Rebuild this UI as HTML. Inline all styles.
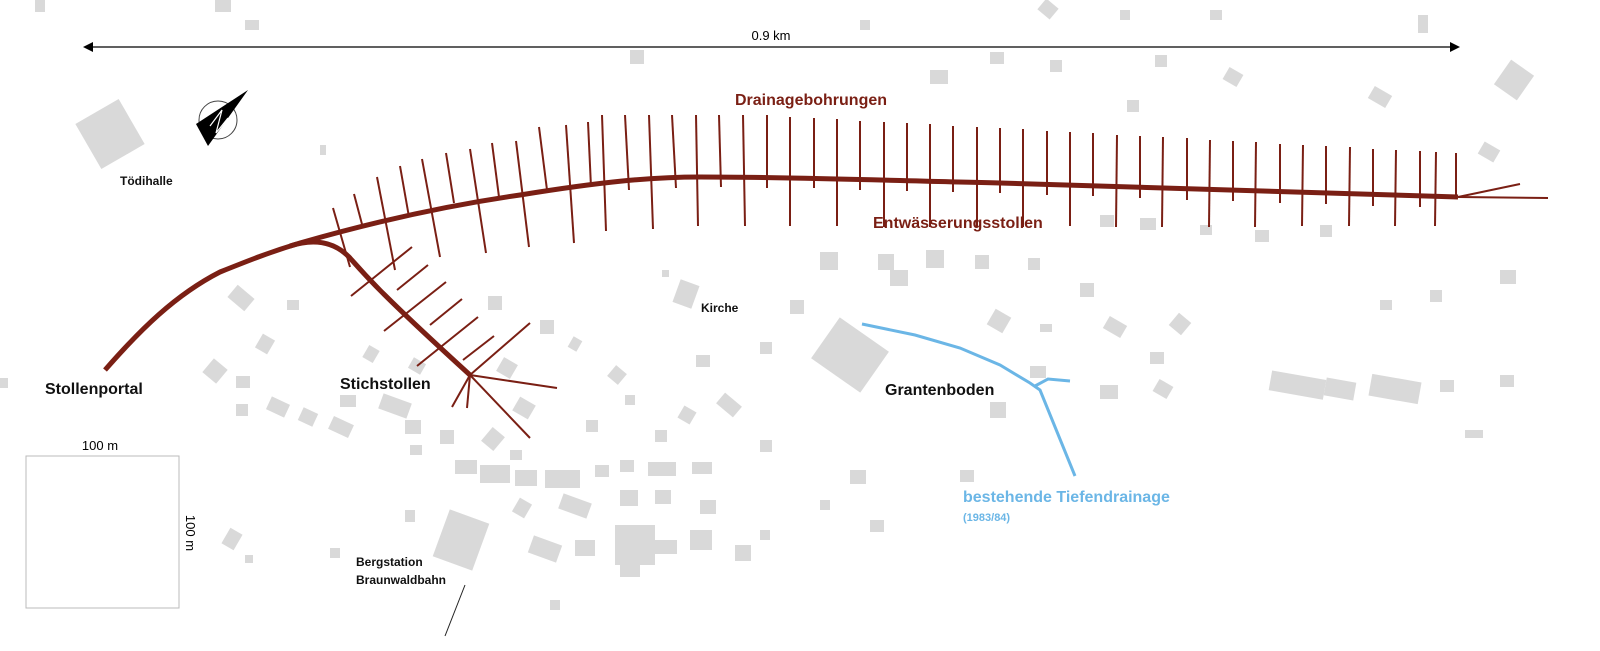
<!DOCTYPE html>
<html><head><meta charset="utf-8"><style>
html,body{margin:0;padding:0;background:#fff;overflow:hidden;width:1600px;height:651px;}
svg{display:block;position:absolute;left:0;top:0}
text{font-family:"Liberation Sans",sans-serif;}
</style></head><body>
<svg width="1600" height="651" viewBox="0 0 1600 651" xmlns="http://www.w3.org/2000/svg">
<g fill="#d9d9d9">
<rect x="85" y="108" width="50" height="52" transform="rotate(-30 110 134)"/>
<rect x="320" y="145" width="6" height="10"/>
<rect x="230" y="290" width="22" height="16" transform="rotate(40 241 298)"/>
<rect x="287" y="300" width="12" height="10"/>
<rect x="258" y="336" width="14" height="16" transform="rotate(30 265 344)"/>
<rect x="206" y="362" width="18" height="18" transform="rotate(40 215 371)"/>
<rect x="236" y="376" width="14" height="12"/>
<rect x="268" y="400" width="20" height="14" transform="rotate(25 278 407)"/>
<rect x="300" y="410" width="16" height="14" transform="rotate(25 308 417)"/>
<rect x="236" y="404" width="12" height="12"/>
<rect x="330" y="420" width="22" height="14" transform="rotate(25 341 427)"/>
<rect x="365" y="347" width="12" height="14" transform="rotate(30 371 354)"/>
<rect x="340" y="395" width="16" height="12"/>
<rect x="380" y="398" width="30" height="16" transform="rotate(20 395 406)"/>
<rect x="405" y="420" width="16" height="14"/>
<rect x="440" y="430" width="14" height="14"/>
<rect x="410" y="445" width="12" height="10"/>
<rect x="488" y="296" width="14" height="14"/>
<rect x="410" y="360" width="14" height="12" transform="rotate(30 417 366)"/>
<rect x="499" y="360" width="16" height="16" transform="rotate(30 507 368)"/>
<rect x="540" y="320" width="14" height="14"/>
<rect x="515" y="400" width="18" height="16" transform="rotate(30 524 408)"/>
<rect x="485" y="430" width="16" height="18" transform="rotate(40 493 439)"/>
<rect x="510" y="450" width="12" height="10"/>
<rect x="570" y="338" width="10" height="12" transform="rotate(30 575 344)"/>
<rect x="610" y="368" width="14" height="14" transform="rotate(40 617 375)"/>
<rect x="625" y="395" width="10" height="10"/>
<rect x="586" y="420" width="12" height="12"/>
<rect x="676" y="282" width="20" height="24" transform="rotate(20 686 294)"/>
<rect x="662" y="270" width="7" height="7"/>
<rect x="696" y="355" width="14" height="12"/>
<rect x="718" y="398" width="22" height="14" transform="rotate(40 729 405)"/>
<rect x="680" y="408" width="14" height="14" transform="rotate(30 687 415)"/>
<rect x="655" y="430" width="12" height="12"/>
<rect x="790" y="300" width="14" height="14"/>
<rect x="760" y="342" width="12" height="12"/>
<rect x="820" y="330" width="60" height="50" transform="rotate(35 850 355)"/>
<rect x="820" y="252" width="18" height="18"/>
<rect x="878" y="254" width="16" height="16"/>
<rect x="926" y="250" width="18" height="18"/>
<rect x="890" y="270" width="18" height="16"/>
<rect x="975" y="255" width="14" height="14"/>
<rect x="1028" y="258" width="12" height="12"/>
<rect x="990" y="312" width="18" height="18" transform="rotate(30 999 321)"/>
<rect x="1040" y="324" width="12" height="8"/>
<rect x="1030" y="366" width="16" height="12"/>
<rect x="990" y="402" width="16" height="16"/>
<rect x="1080" y="283" width="14" height="14"/>
<rect x="1105" y="320" width="20" height="14" transform="rotate(30 1115 327)"/>
<rect x="1172" y="316" width="16" height="16" transform="rotate(40 1180 324)"/>
<rect x="1150" y="352" width="14" height="12"/>
<rect x="1100" y="385" width="18" height="14"/>
<rect x="1155" y="382" width="16" height="14" transform="rotate(30 1163 389)"/>
<rect x="1270" y="375" width="55" height="20" transform="rotate(10 1297 385)"/>
<rect x="1325" y="380" width="30" height="18" transform="rotate(10 1340 389)"/>
<rect x="1370" y="378" width="50" height="22" transform="rotate(10 1395 389)"/>
<rect x="1440" y="380" width="14" height="12"/>
<rect x="1500" y="375" width="14" height="12"/>
<rect x="1465" y="430" width="18" height="8"/>
<rect x="1500" y="270" width="16" height="14"/>
<rect x="1430" y="290" width="12" height="12"/>
<rect x="1380" y="300" width="12" height="10"/>
<rect x="1480" y="145" width="18" height="14" transform="rotate(30 1489 152)"/>
<rect x="1500" y="65" width="28" height="30" transform="rotate(35 1514 80)"/>
<rect x="1418" y="15" width="10" height="18"/>
<rect x="1100" y="215" width="14" height="12"/>
<rect x="1140" y="218" width="16" height="12"/>
<rect x="1200" y="225" width="12" height="10"/>
<rect x="1255" y="230" width="14" height="12"/>
<rect x="1320" y="225" width="12" height="12"/>
<rect x="1225" y="70" width="16" height="14" transform="rotate(30 1233 77)"/>
<rect x="1155" y="55" width="12" height="12"/>
<rect x="1127" y="100" width="12" height="12"/>
<rect x="1370" y="90" width="20" height="14" transform="rotate(30 1380 97)"/>
<rect x="1040" y="2" width="16" height="14" transform="rotate(40 1048 9)"/>
<rect x="1050" y="60" width="12" height="12"/>
<rect x="1120" y="10" width="10" height="10"/>
<rect x="1210" y="10" width="12" height="10"/>
<rect x="990" y="52" width="14" height="12"/>
<rect x="930" y="70" width="18" height="14"/>
<rect x="630" y="50" width="14" height="14"/>
<rect x="860" y="20" width="10" height="10"/>
<rect x="215" y="0" width="16" height="12"/>
<rect x="245" y="20" width="14" height="10"/>
<rect x="35" y="0" width="10" height="12"/>
<rect x="0" y="378" width="8" height="10"/>
<rect x="455" y="460" width="22" height="14"/>
<rect x="480" y="465" width="30" height="18"/>
<rect x="515" y="470" width="22" height="16"/>
<rect x="545" y="470" width="35" height="18"/>
<rect x="595" y="465" width="14" height="12"/>
<rect x="620" y="460" width="14" height="12"/>
<rect x="648" y="462" width="28" height="14"/>
<rect x="692" y="462" width="20" height="12"/>
<rect x="515" y="500" width="14" height="16" transform="rotate(30 522 508)"/>
<rect x="560" y="498" width="30" height="16" transform="rotate(20 575 506)"/>
<rect x="620" y="490" width="18" height="16"/>
<rect x="655" y="490" width="16" height="14"/>
<rect x="700" y="500" width="16" height="14"/>
<rect x="440" y="515" width="42" height="50" transform="rotate(20 461 540)"/>
<rect x="530" y="540" width="30" height="18" transform="rotate(20 545 549)"/>
<rect x="575" y="540" width="20" height="16"/>
<rect x="615" y="525" width="40" height="40"/>
<rect x="655" y="540" width="22" height="14"/>
<rect x="690" y="530" width="22" height="20"/>
<rect x="735" y="545" width="16" height="16"/>
<rect x="760" y="530" width="10" height="10"/>
<rect x="225" y="530" width="14" height="18" transform="rotate(30 232 539)"/>
<rect x="245" y="555" width="8" height="8"/>
<rect x="405" y="510" width="10" height="12"/>
<rect x="330" y="548" width="10" height="10"/>
<rect x="550" y="600" width="10" height="10"/>
<rect x="620" y="565" width="20" height="12"/>
<rect x="850" y="470" width="16" height="14"/>
<rect x="870" y="520" width="14" height="12"/>
<rect x="820" y="500" width="10" height="10"/>
<rect x="960" y="470" width="14" height="12"/>
<rect x="760" y="440" width="12" height="12"/>
</g>
<g stroke="#7a1f14" stroke-width="2">
<line x1="333" y1="208" x2="350" y2="267"/><line x1="354" y1="194" x2="363" y2="228"/>
<line x1="377" y1="177" x2="395" y2="270"/><line x1="400" y1="166" x2="409" y2="217"/>
<line x1="422" y1="159" x2="440" y2="257"/><line x1="446" y1="153" x2="454" y2="203"/>
<line x1="470" y1="149" x2="486" y2="253"/><line x1="492" y1="143" x2="499" y2="197"/>
<line x1="516" y1="141" x2="529" y2="247"/><line x1="539" y1="127" x2="547" y2="190"/>
<line x1="566" y1="125" x2="574" y2="243"/><line x1="588" y1="122" x2="591" y2="187"/>
<line x1="602" y1="115" x2="606" y2="231"/><line x1="625" y1="115" x2="629" y2="190"/>
<line x1="649" y1="115" x2="653" y2="229"/><line x1="672" y1="115" x2="676" y2="188"/>
<line x1="696" y1="115" x2="698" y2="226"/><line x1="719" y1="115" x2="721" y2="187"/>
<line x1="743" y1="115" x2="745" y2="226"/><line x1="767" y1="115" x2="767" y2="188"/>
<line x1="790" y1="117" x2="790" y2="226"/><line x1="814" y1="118" x2="814" y2="188"/>
<line x1="837" y1="119" x2="837" y2="226"/><line x1="860" y1="121" x2="860" y2="190"/>
<line x1="884" y1="122" x2="884" y2="227"/><line x1="907" y1="123" x2="907" y2="191"/>
<line x1="930" y1="124" x2="930" y2="227"/><line x1="953" y1="126" x2="953" y2="192"/>
<line x1="977" y1="127" x2="977" y2="227"/><line x1="1000" y1="128" x2="1000" y2="193"/>
<line x1="1023" y1="129" x2="1023" y2="227"/><line x1="1047" y1="131" x2="1047" y2="195"/>
<line x1="1070" y1="132" x2="1070" y2="226"/><line x1="1093" y1="133" x2="1093" y2="196"/>
<line x1="1117" y1="135" x2="1116" y2="227"/><line x1="1140" y1="136" x2="1140" y2="198"/>
<line x1="1163" y1="137" x2="1162" y2="227"/><line x1="1187" y1="138" x2="1187" y2="200"/>
<line x1="1210" y1="140" x2="1209" y2="227"/><line x1="1233" y1="141" x2="1233" y2="201"/>
<line x1="1256" y1="142" x2="1255" y2="227"/><line x1="1280" y1="144" x2="1280" y2="203"/>
<line x1="1303" y1="145" x2="1302" y2="226"/><line x1="1326" y1="146" x2="1326" y2="204"/>
<line x1="1350" y1="147" x2="1349" y2="226"/><line x1="1373" y1="149" x2="1373" y2="206"/>
<line x1="1396" y1="150" x2="1395" y2="226"/><line x1="1420" y1="151" x2="1420" y2="207"/>
<line x1="1436" y1="152" x2="1435" y2="226"/><line x1="1456" y1="153" x2="1456" y2="198"/>
</g>
<path d="M105,370 C140,330 175,295 220,272 C250,260 270,252 300,243 C380,220 450,205 520,195 C600,182 650,177 700,177 C800,177 900,181 1000,183 C1200,190 1350,195 1458,197" stroke="#7a1f14" stroke-width="5" fill="none"/>
<path d="M290,246 C315,238 335,242 350,258 C365,275 380,293 470,375" stroke="#7a1f14" stroke-width="5" fill="none"/>
<g stroke="#7a1f14" stroke-width="2">
<line x1="351" y1="296" x2="412" y2="247"/><line x1="397" y1="290" x2="428" y2="265"/>
<line x1="384" y1="331" x2="446" y2="282"/><line x1="430" y1="325" x2="462" y2="299"/>
<line x1="417" y1="366" x2="478" y2="317"/><line x1="463" y1="360" x2="494" y2="336"/>
<line x1="470" y1="375" x2="530" y2="323"/><line x1="470" y1="375" x2="557" y2="388"/>
<line x1="470" y1="375" x2="530" y2="438"/><line x1="470" y1="375" x2="467" y2="408"/>
<line x1="470" y1="375" x2="452" y2="407"/>
<line x1="1458" y1="197" x2="1520" y2="184"/><line x1="1458" y1="197" x2="1548" y2="198"/>
<line x1="465" y1="585" x2="445" y2="636" stroke="#222" stroke-width="1"/>
</g>
<g stroke="#6bb6e6" stroke-width="3" fill="none">
<path d="M862,324 L915,335 L960,348 L1000,365 L1030,383 L1040,390 L1075,476"/>
<path d="M1035,386 L1048,379 L1070,381"/>
</g>
<line x1="88" y1="47" x2="1455" y2="47" stroke="#000" stroke-width="1.2"/>
<path d="M83,47 L93,42 L93,52Z M1460,47 L1450,42 L1450,52Z" fill="#000"/>
<text x="771" y="40" font-size="13" text-anchor="middle">0.9 km</text>
<rect x="26" y="456" width="153" height="152" fill="none" stroke="#bbb" stroke-width="1"/>
<text x="100" y="450" font-size="13" text-anchor="middle">100 m</text>
<text x="186" y="533" font-size="13" text-anchor="middle" transform="rotate(90 186 533)">100 m</text>
<circle cx="218" cy="120" r="19" fill="none" stroke="#444" stroke-width="1"/>
<path d="M248,90 L196,124 L208,146 Z" fill="#000"/>
<path d="M210,126 L222,110 L216,133 L228,118" stroke="#fff" stroke-width="1.2" fill="none"/>
<g font-weight="bold" fill="#111">
<text x="120" y="185" font-size="12">Tödihalle</text>
<text x="45" y="394" font-size="16">Stollenportal</text>
<text x="340" y="389" font-size="16">Stichstollen</text>
<text x="701" y="312" font-size="12">Kirche</text>
<text x="885" y="395" font-size="16">Grantenboden</text>
<text x="356" y="566" font-size="12">Bergstation</text>
<text x="356" y="584" font-size="12">Braunwaldbahn</text>
</g>
<text x="735" y="105" font-size="16" font-weight="bold" fill="#7a1f14">Drainagebohrungen</text>
<text x="873" y="228" font-size="16" font-weight="bold" fill="#7a1f14">Entwässerungsstollen</text>
<text x="963" y="502" font-size="16" font-weight="bold" fill="#6bb6e6">bestehende Tiefendrainage</text>
<text x="963" y="521" font-size="11" font-weight="bold" fill="#6bb6e6">(1983/84)</text>
</svg>
</body></html>
